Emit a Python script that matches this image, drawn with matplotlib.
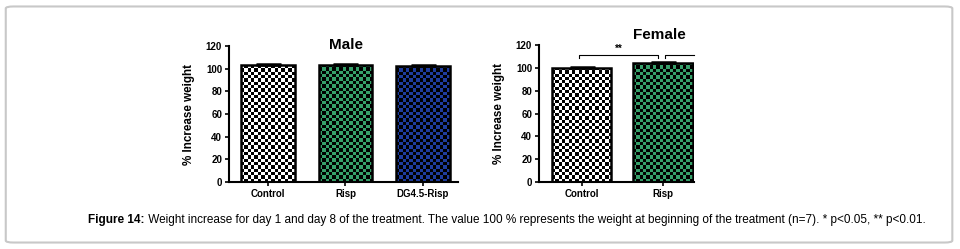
import matplotlib.pyplot as plt
import numpy as np
from matplotlib.colors import ListedColormap
from matplotlib.patches import FancyBboxPatch

plt.rcParams['font.family'] = ['Liberation Sans', 'DejaVu Sans']

# data
male_groups = ['Control', 'Risp', 'DG4.5-Risp']
male_values = [103.2, 103.4, 102.6]
male_err = [0.8, 0.7, 0.4]

female_groups = ['Control', 'Risp']
female_values = [100.3, 104.6]
female_err = [0.3, 1.0]

yticks = [0, 20, 40, 60, 80, 100, 120]
caption_bold = 'Figure 14:'
caption_rest = (' Weight increase for day 1 and day 8 of the treatment. The value 100 % represents '
                'the weight at beginning of the treatment (n=7). * p<0.05, ** p<0.01.')

fill_colors = {'Control': '#ffffff', 'Risp': '#36a06a', 'DG4.5-Risp': '#1e3c9e'}


def checker_bars(ax, groups, values, errs, width):
    x = np.arange(len(groups))
    bars = ax.bar(x, values, width=width, facecolor='none', edgecolor='black',
                  linewidth=1.8, zorder=3)
    ax.errorbar(x, values, yerr=[np.zeros(len(errs)), errs], fmt='none',
                ecolor='black', elinewidth=1.5, capsize=9, capthick=1.8, zorder=4)
    cell = 3.3  # pixels per checker square
    for bar, g in zip(bars, groups):
        x0, y0 = bar.get_x(), bar.get_y()
        x1, y1 = x0 + bar.get_width(), y0 + bar.get_height()
        p0 = ax.transData.transform((x0, y0))
        p1 = ax.transData.transform((x1, y1))
        nx = max(1, int(round(abs(p1[0] - p0[0]) / cell)))
        ny = max(1, int(round(abs(p1[1] - p0[1]) / cell)))
        iy, ix = np.indices((ny, nx))
        board = (ix + iy) % 2
        im = ax.imshow(board, extent=(x0, x1, y0, y1), origin='lower',
                       cmap=ListedColormap([fill_colors[g], '#000000']),
                       interpolation='nearest', aspect='auto', zorder=2)
        im.set_clip_path(bar)
    return bars


def style_axes(ax, title, groups, title_xy):
    ax.set_ylim(0, 120)
    ax.set_yticks(yticks)
    ax.set_xticks(np.arange(len(groups)))
    ax.set_xticklabels(groups)
    for s in ['top', 'right']:
        ax.spines[s].set_visible(False)
    for s in ['left', 'bottom']:
        ax.spines[s].set_linewidth(1.5)
    ax.tick_params(axis='both', length=3, width=1.2, labelsize=7, pad=2)
    for lab in ax.get_xticklabels() + ax.get_yticklabels():
        lab.set_fontweight('bold')
    ax.set_ylabel('% Increase weight', fontsize=8.4, fontweight='bold', labelpad=8)
    ax.text(title_xy[0], title_xy[1], title, transform=ax.transAxes, ha='center',
            va='center', fontsize=11, fontweight='bold')


fig = plt.figure(figsize=(9.6, 2.49), dpi=100)

ax1 = fig.add_axes([0.2385, 0.269, 0.2385, 0.546])
ax1.set_xlim(-0.5, 2.45)
ax1.set_ylim(0, 120)
checker_bars(ax1, male_groups, male_values, male_err, 0.69)
ax1.set_xlim(-0.5, 2.45)
style_axes(ax1, 'Male', male_groups, (0.51, 1.01))

ax2 = fig.add_axes([0.5615, 0.269, 0.161, 0.550])
ax2.set_xlim(-0.52, 1.37)
ax2.set_ylim(0, 120)
checker_bars(ax2, female_groups, female_values, female_err, 0.73)
ax2.set_xlim(-0.52, 1.37)
style_axes(ax2, 'Female', female_groups, (0.78, 1.07))

# significance brackets
ax2.plot([-0.03, -0.03, 0.94, 0.94], [108.5, 111.3, 111.3, 108.5], color='black',
         lw=0.8, clip_on=False)
ax2.text(0.45, 112.0, '**', ha='center', va='bottom', fontsize=7, fontweight='bold')
ax2.plot([1.02, 1.02, 1.37], [108.5, 111.3, 111.3], color='black', lw=0.8, clip_on=False)

# caption
t = fig.text(0.092, 0.117, caption_bold, fontsize=8.5, fontweight='bold', va='center')
fig.canvas.draw()
bb = t.get_window_extent().transformed(fig.transFigure.inverted())
fig.text(bb.x1, 0.117, caption_rest, fontsize=8.5, va='center')

# rounded border
fig.patches.append(FancyBboxPatch((0.006, 0.026), 0.986, 0.948,
                                  boxstyle='round,pad=0,rounding_size=0.008',
                                  transform=fig.transFigure, facecolor='none',
                                  edgecolor='#c8c8c8', linewidth=1.5))

fig.savefig('out.png', dpi=100)
